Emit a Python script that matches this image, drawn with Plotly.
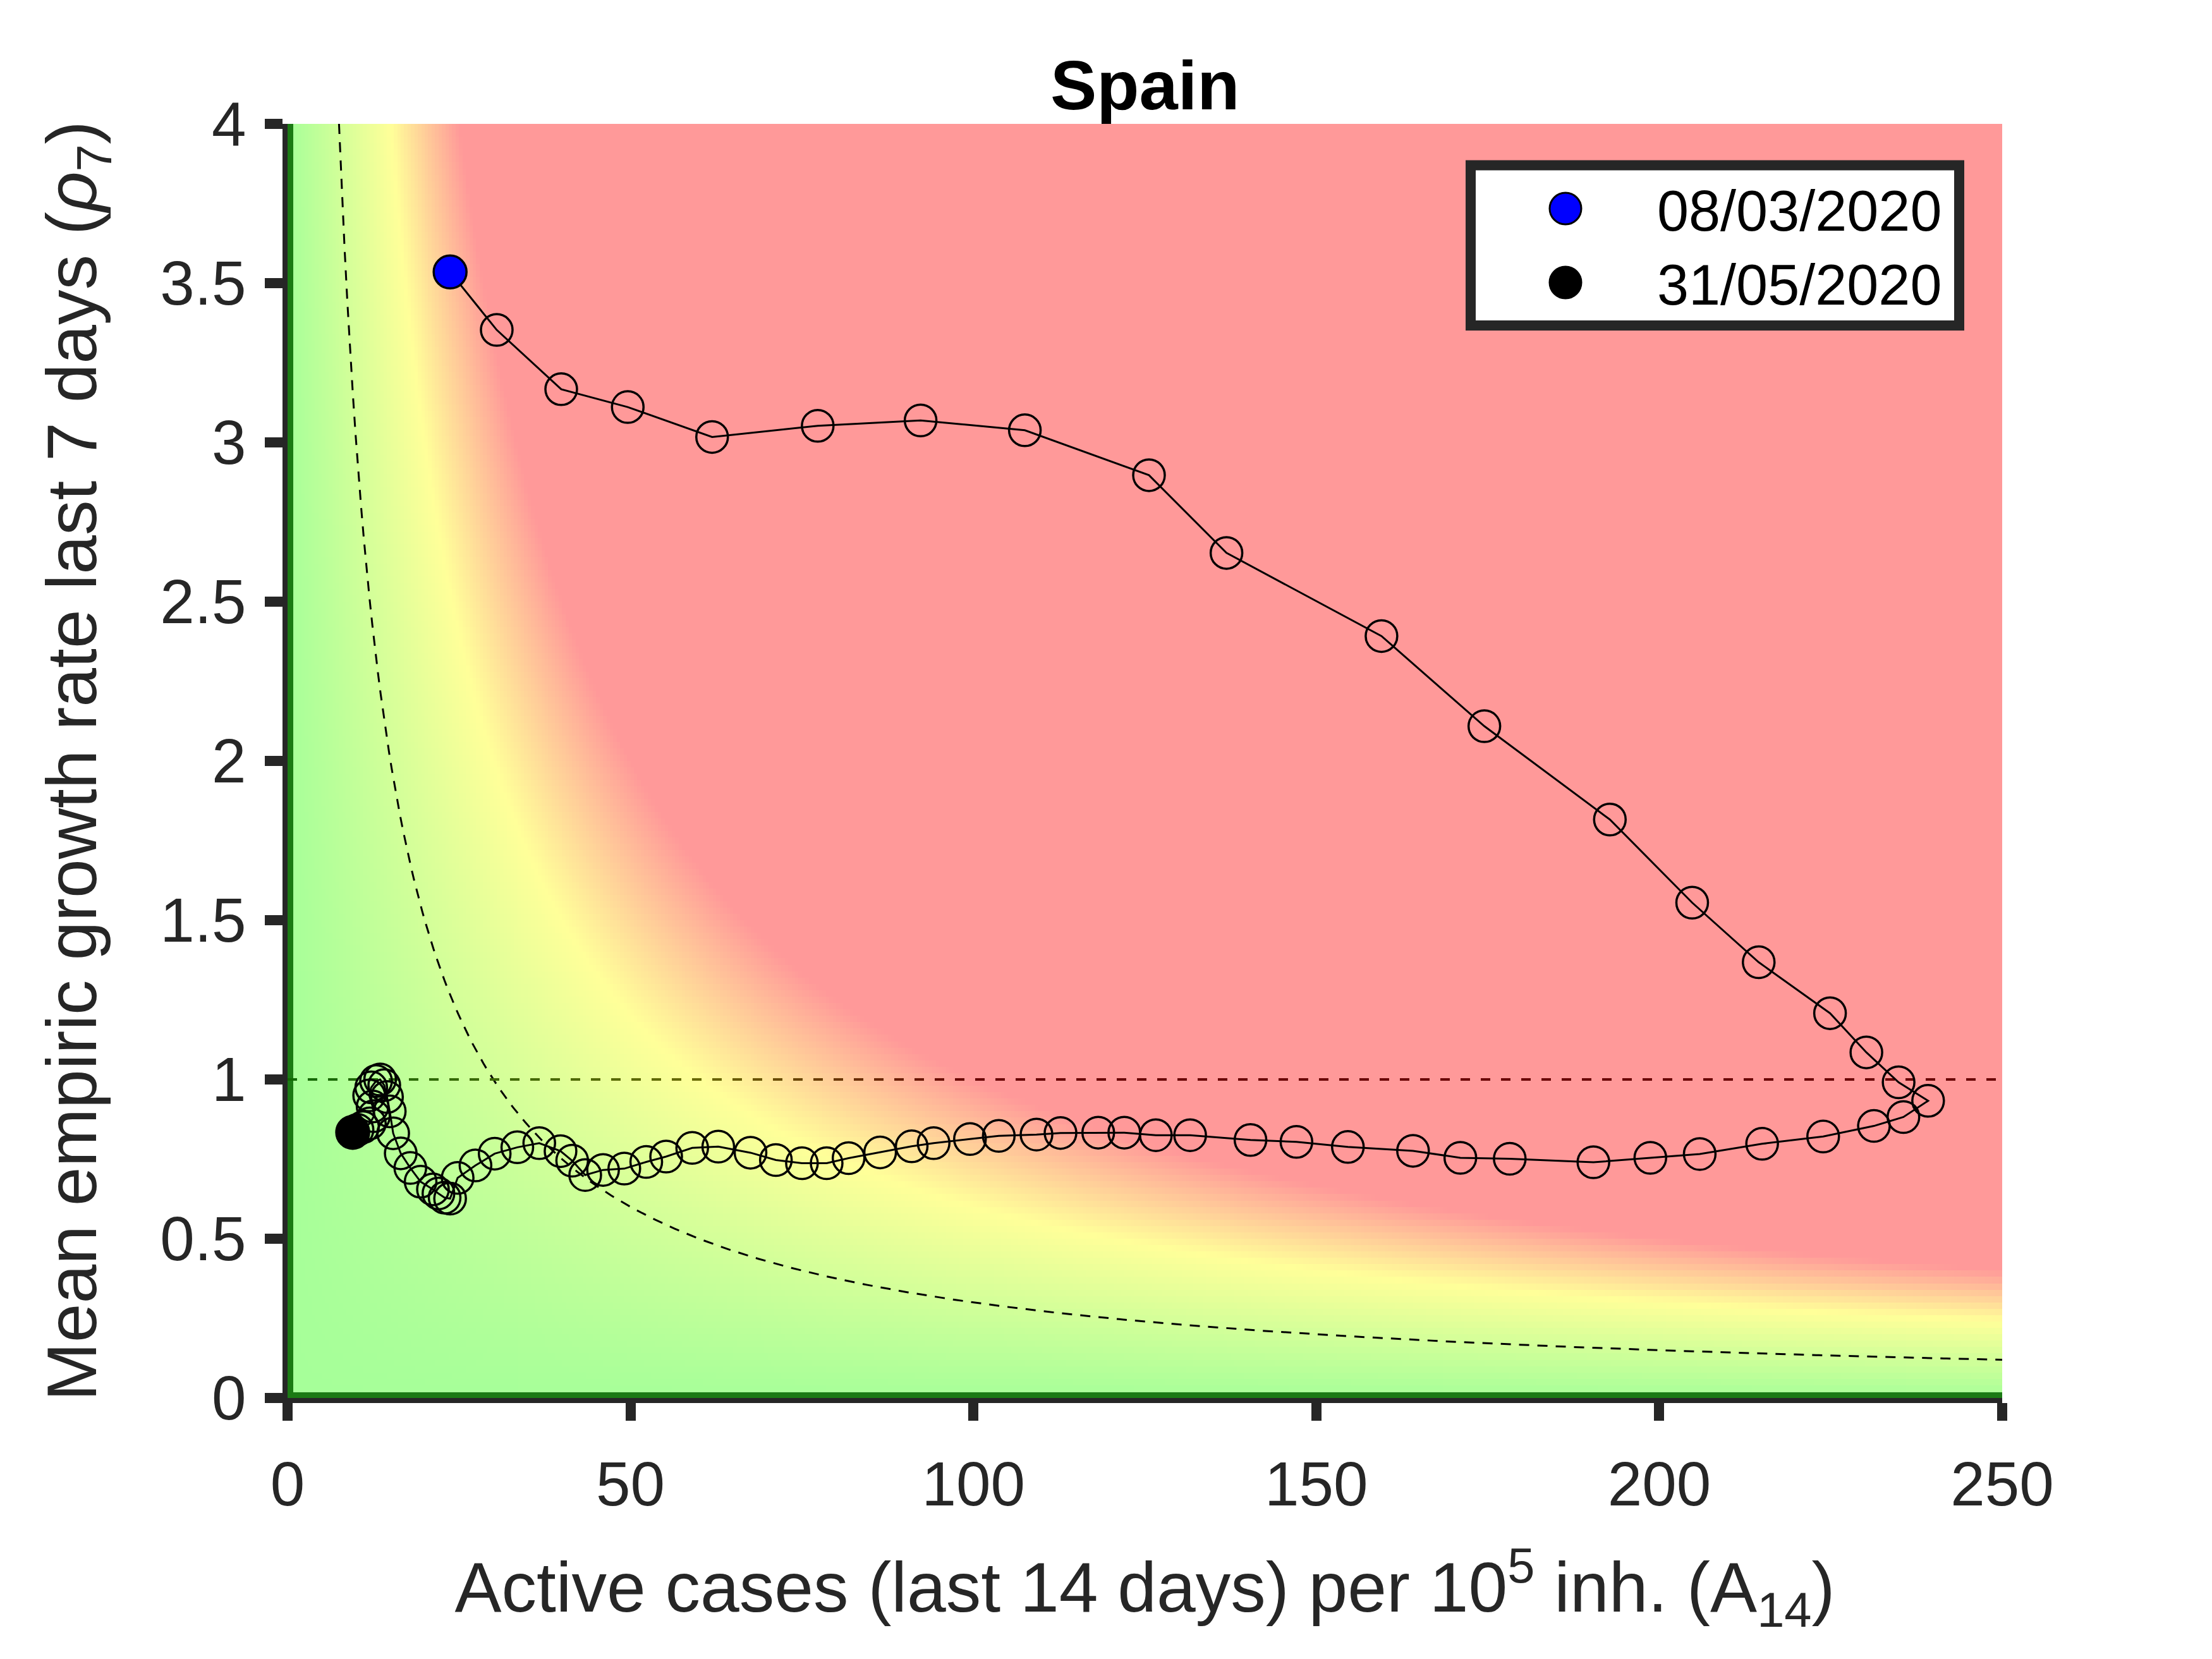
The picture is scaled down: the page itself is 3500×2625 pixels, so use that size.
import numpy as np
import plotly.graph_objects as go

# ---------------- data ----------------
country = "Spain"
legend_dates = ["08/03/2020", "31/05/2020"]

a14 = [23.7, 30.5, 39.9, 49.6, 61.9, 77.3, 92.3, 107.5, 125.6, 136.9,
       159.5, 174.5, 192.8, 204.8, 214.5, 224.9, 230.2, 234.9, 239.2,
       235.6, 231.3, 223.9, 215.0, 205.9, 198.7, 190.4, 178.2, 171.0, 164.1,
       154.6, 147.1, 140.4, 131.6, 126.6, 122.0, 118.2, 112.7, 109.2, 103.7,
       99.5, 94.2, 91.0, 86.4, 81.8, 78.6, 75.0, 71.2, 67.5, 62.8, 59.0,
       55.2, 52.3, 49.1, 46.0, 43.4, 41.5, 39.8, 36.7, 33.5, 30.2, 27.4,
       24.8, 23.7, 22.9, 22.0, 21.2, 19.4, 17.9, 16.5, 15.4, 14.9, 14.5,
       14.1, 13.5, 12.9, 12.2, 11.9, 12.4, 12.6, 12.0, 11.0, 10.2, 9.5]
rho7 = [3.535, 3.353, 3.167, 3.111, 3.017, 3.052, 3.069, 3.038, 2.897, 2.653,
        2.392, 2.109, 1.816, 1.555, 1.368, 1.208, 1.085, 0.991, 0.933,
        0.882, 0.854, 0.821, 0.798, 0.766, 0.754, 0.740, 0.751, 0.754, 0.776,
        0.788, 0.804, 0.810, 0.825, 0.825, 0.833, 0.833, 0.832, 0.827, 0.823,
        0.813, 0.800, 0.790, 0.771, 0.753, 0.737, 0.737, 0.747, 0.770, 0.789,
        0.785, 0.758, 0.741, 0.720, 0.716, 0.700, 0.745, 0.775, 0.800, 0.787,
        0.767, 0.730, 0.691, 0.626, 0.629, 0.642, 0.655, 0.679, 0.722, 0.768,
        0.831, 0.900, 0.945, 0.982, 1.000, 0.995, 0.975, 0.950, 0.915, 0.885,
        0.862, 0.850, 0.842, 0.834]

x_ticks = [0, 50, 100, 150, 200, 250]
y_ticks = [0, 0.5, 1, 1.5, 2, 2.5, 3, 3.5, 4]
x_range = [0, 250]
y_range = [0, 4]
epg_thresholds = [30, 60, 100]     # dashed curve, yellow, red level
rho_threshold = 1

# ---------------- styling ----------------
FONT = "Liberation Sans, Arial, Helvetica, sans-serif"
AX = "#262626"
GREEN = (166, 255, 153)
YELLOW = (255, 255, 153)
RED = (255, 153, 153)

# the html body has an 8px margin; work in page pixels
OFF = 8
W, H = 3500 - 2 * OFF, 2625 - 2 * OFF
PL, PR, PT, PB = 455, 3168, 196, 2212          # plot area in page pixels
ML, MT = PL - OFF, PT - OFF
MR, MB = W - (PR - OFF), H - (PB - OFF)
PW, PH = PR - PL, PB - PT


def bg_color(v):
    v = min(max(v, 0), epg_thresholds[2])
    if v <= epg_thresholds[1]:
        t = v / epg_thresholds[1]
        c0, c1 = GREEN, YELLOW
    else:
        t = (v - epg_thresholds[1]) / (epg_thresholds[2] - epg_thresholds[1])
        c0, c1 = YELLOW, RED
    return tuple(c0[i] + (c1[i] - c0[i]) * t for i in range(3))


fig = go.Figure()

# background risk map (A14 * rho7)
dxg, dyg = 0.5, 0.02
xc = np.arange(x_range[0] + dxg / 2, x_range[1], dxg)
yc = np.arange(y_range[0] + dyg / 2, y_range[1], dyg)
Z = np.outer(yc, xc)
fr = epg_thresholds[1] / epg_thresholds[2]
fig.add_trace(go.Heatmap(
    x=xc, y=yc, z=Z, zmin=0, zmax=epg_thresholds[2], zsmooth=False,
    colorscale=[[0, "rgb(%d,%d,%d)" % GREEN], [fr, "rgb(%d,%d,%d)" % YELLOW],
                [1, "rgb(%d,%d,%d)" % RED]],
    showscale=False, hoverinfo="skip"))

# green lines along the axes (clipped to plot area)
fig.add_trace(go.Scatter(x=[0, 0, 250], y=[4, 0, 0], mode="lines",
                         line=dict(color="rgb(27,122,20)", width=18),
                         hoverinfo="skip", showlegend=False))

# dashed hyperbola A14*rho7 = 30
xh = np.linspace(epg_thresholds[0] / y_range[1], x_range[1], 600)
fig.add_trace(go.Scatter(x=xh, y=epg_thresholds[0] / xh, mode="lines",
                         line=dict(color="black", width=3, dash="16px,13px"),
                         hoverinfo="skip", showlegend=False))

# dashed rho7 = 1 line, colour darkened from the background underneath
px_per_unit = PW / (x_range[1] - x_range[0])
period = 32 / px_per_unit
dlen = 15 / px_per_unit
start = 0.0
while start < x_range[1]:
    end = min(start + dlen, x_range[1])
    mid = (start + end) / 2
    c = bg_color(mid * rho_threshold)
    dc = tuple(int(max(0, ci - 150)) for ci in c)
    fig.add_trace(go.Scatter(x=[start, end], y=[rho_threshold, rho_threshold],
                             mode="lines", line=dict(color="rgb(%d,%d,%d)" % dc, width=4),
                             hoverinfo="skip", showlegend=False))
    start += period

# trajectory
fig.add_trace(go.Scatter(x=a14, y=rho7, mode="lines+markers",
                         line=dict(color="black", width=3),
                         marker=dict(symbol="circle", size=50, color="rgba(0,0,0,0)",
                                     line=dict(color="black", width=3.5)),
                         showlegend=False))
fig.add_trace(go.Scatter(x=[a14[0]], y=[rho7[0]], mode="markers", name=legend_dates[0],
                         marker=dict(size=52, color="#0000FF", line=dict(color="black", width=3.5)),
                         showlegend=False))
fig.add_trace(go.Scatter(x=[a14[-1]], y=[rho7[-1]], mode="markers", name=legend_dates[1],
                         marker=dict(size=52, color="black", line=dict(color="black", width=3.5)),
                         showlegend=False))

# ---------------- custom legend box ----------------
def px2paper_x(X):
    return (X - PL) / PW


def px2paper_y(Y):
    return (PB - Y) / PH


shapes = [dict(type="rect", xref="paper", yref="paper",
               x0=px2paper_x(2327), x1=px2paper_x(3100),
               y0=px2paper_y(515), y1=px2paper_y(261.5),
               line=dict(color=AX, width=16), fillcolor="white", layer="above")]
annotations = []
for i, (lab, col, Y) in enumerate(zip(legend_dates, ["#0000FF", "black"], [330, 447])):
    shapes.append(dict(type="circle", xref="paper", yref="paper",
                       xsizemode="pixel", ysizemode="pixel",
                       xanchor=px2paper_x(2477), yanchor=px2paper_y(Y),
                       x0=-25, x1=25, y0=-25, y1=25,
                       fillcolor=col, line=dict(color="black", width=3), layer="above"))
    annotations.append(dict(xref="paper", yref="paper", x=px2paper_x(2620), y=px2paper_y(Y + 4),
                            xanchor="left", yanchor="middle", showarrow=False,
                            text=lab, font=dict(family=FONT, size=90, color="black")))

annotations.append(dict(xref="paper", yref="paper", x=0.5, y=px2paper_y(134),
                        xanchor="center", yanchor="middle", showarrow=False,
                        text="<b>%s</b>" % country,
                        font=dict(family=FONT, size=110, color="black")))

axis_common = dict(ticks="outside", ticklen=28, tickwidth=16, tickcolor=AX,
                   showline=True, linecolor=AX, linewidth=8, showgrid=False,
                   zeroline=False, mirror=False,
                   tickfont=dict(family=FONT, size=98, color=AX))

fig.update_layout(
    width=W, height=H, autosize=False,
    margin=dict(l=ML, r=MR, t=MT, b=MB, pad=0),
    paper_bgcolor="white", plot_bgcolor="white",
    showlegend=False,
    shapes=shapes, annotations=annotations,
    xaxis=dict(range=x_range, tickvals=x_ticks, ticktext=[str(v) for v in x_ticks],
               ticklabelstandoff=16,
               title=dict(text="Active cases (last 14 days) per 10<sup>5</sup> inh. (A<sub>14</sub>)",
                          font=dict(family=FONT, size=111, color=AX), standoff=74),
               **axis_common),
    yaxis=dict(range=y_range, tickvals=y_ticks, ticktext=[("%g" % v) for v in y_ticks],
               ticklabelstandoff=10,
               title=dict(text="Mean empiric growth rate last 7 days (<i>ρ</i><sub>7</sub>)",
                          font=dict(family=FONT, size=111, color=AX), standoff=66),
               **axis_common),
)
fig.update_xaxes(automargin=False)
fig.update_yaxes(automargin=False)

fig.write_html("out.html")
